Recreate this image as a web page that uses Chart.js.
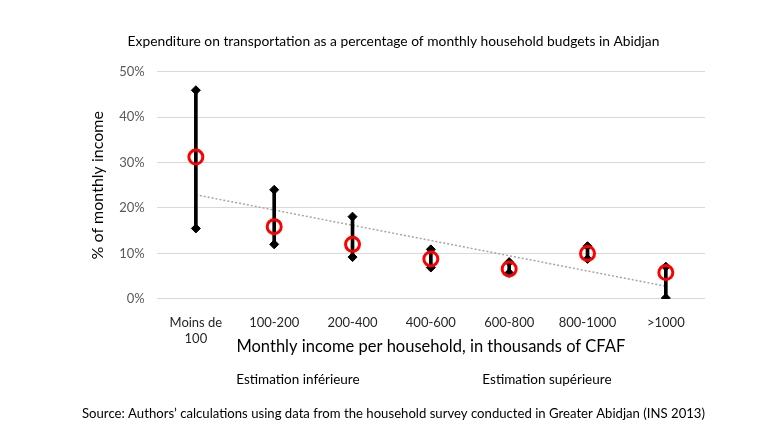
<!DOCTYPE html>
<html>
<head>
<meta charset="utf-8">
<script src="https://cdn.jsdelivr.net/npm/chart.js@4.4.1/dist/chart.umd.min.js"></script>
<style>
  html, body { margin: 0; padding: 0; background: #fff; }
  #wrap { width: 780px; height: 439px; }
</style>
</head>
<body>
<div id="wrap"><canvas id="transportChart" width="780" height="439"></canvas></div>
<script>
  // income bands (thousands of CFAF)
  const categories = [['Moins de', '100'], '100-200', '200-400', '400-600', '600-800', '800-1000', '>1000'];
  // share of monthly income spent on transport, in %
  const lowEstimate = [15.5, 12.0, 9.2, 6.9, 5.7, 8.8, 0.2];
  const highEstimate = [45.9, 24.0, 18.1, 10.9, 8.1, 11.6, 7.1];
  const meanEstimate = [31.2, 15.9, 12.0, 8.8, 6.6, 10.0, 5.8];
  // linear trend of the means, first and last point
  const trendLine = [22.9, null, null, null, null, null, 2.8];
  const yTicks = [0, 10, 20, 30, 40, 50];

  const font = "'Lato', 'Open Sans', sans-serif";
  Chart.defaults.font.family = font;

  // the legend sits a bit left of the centre in the original
  const legendShift = {
    id: 'legendShift',
    afterLayout(chart) {
      chart.legend.left -= 27;
      chart.legend.right -= 27;
    }
  };

  const ctx = document.getElementById('transportChart').getContext('2d');
  const transportChart = new Chart(ctx, {
    type: 'bar',
    data: {
      labels: categories,
      datasets: [
        {
          label: 'Trend',
          type: 'line',
          data: trendLine,
          spanGaps: true,
          borderColor: '#a6a6a6',
          borderWidth: 1.5,
          borderDash: [2, 2],
          pointRadius: 0,
          order: 5
        },
        {
          label: 'range',
          data: lowEstimate.map((v, i) => [v, highEstimate[i]]),
          backgroundColor: '#000',
          barThickness: 3,
          order: 4
        },
        {
          label: 'Estimation inférieure',
          type: 'line',
          data: lowEstimate,
          showLine: false,
          pointStyle: 'rectRot',
          pointRadius: 4.5,
          backgroundColor: '#000',
          borderColor: '#000',
          order: 3
        },
        {
          label: 'Estimation supérieure',
          type: 'line',
          data: highEstimate,
          showLine: false,
          pointStyle: 'rectRot',
          pointRadius: 4.5,
          backgroundColor: '#000',
          borderColor: '#000',
          order: 2
        },
        {
          label: 'Mean',
          type: 'line',
          data: meanEstimate,
          showLine: false,
          pointStyle: 'circle',
          pointRadius: 7,
          borderWidth: 3,
          borderColor: '#ff0000',
          backgroundColor: 'rgba(255,255,255,0)',
          order: 1
        }
      ]
    },
    options: {
      responsive: false,
      animation: false,
      layout: { padding: { left: 82, right: 75, top: 33, bottom: 6 } },
      scales: {
        x: {
          offset: true,
          grid: { display: false },
          border: { display: false },
          ticks: { color: '#262626', font: { size: 13 }, maxRotation: 0, autoSkip: false, padding: 8 },
          title: {
            display: true,
            text: 'Monthly income per household, in thousands of CFAF',
            color: '#000',
            font: { size: 16.5 },
            padding: { top: -17, bottom: 8 }
          }
        },
        y: {
          min: 0,
          max: 50,
          ticks: { color: '#595959', font: { size: 13 }, padding: 12, stepSize: 10, autoSkip: false, callback: v => v + '%' },
          afterBuildTicks: (axis) => { axis.ticks = yTicks.map(v => ({ value: v })); },
          grid: { color: '#d9d9d9', drawTicks: false },
          border: { display: false },
          title: {
            display: true,
            text: '% of monthly income',
            color: '#000',
            font: { size: 16 },
            padding: { top: 6, bottom: 0 }
          }
        }
      },
      plugins: {
        title: {
          display: true,
          text: 'Expenditure on transportation as a percentage of monthly household budgets in Abidjan',
          color: '#000',
          font: { size: 13.8, weight: 'normal' },
          padding: { top: 0, bottom: 22 }
        },
        subtitle: {
          display: true,
          position: 'bottom',
          text: 'Source: Authors\u2019 calculations using data from the household survey conducted in Greater Abidjan (INS 2013)',
          color: '#000',
          font: { size: 13.8 },
          padding: { top: 9, bottom: 11 }
        },
        legend: {
          position: 'bottom',
          labels: {
            color: '#000',
            font: { size: 13.5 },
            boxWidth: 108,
            boxHeight: 10,
            padding: 8,
            filter: item => item.text.startsWith('Estimation'),
            generateLabels: chart => chart.data.datasets.map((ds, i) => ({
              text: ds.label,
              datasetIndex: i,
              fillStyle: 'rgba(0,0,0,0)',
              strokeStyle: 'rgba(0,0,0,0)',
              lineWidth: 0,
              fontColor: '#000'
            }))
          }
        },
        tooltip: { enabled: false }
      }
    },
    plugins: [legendShift]
  });
</script>
</body>
</html>
